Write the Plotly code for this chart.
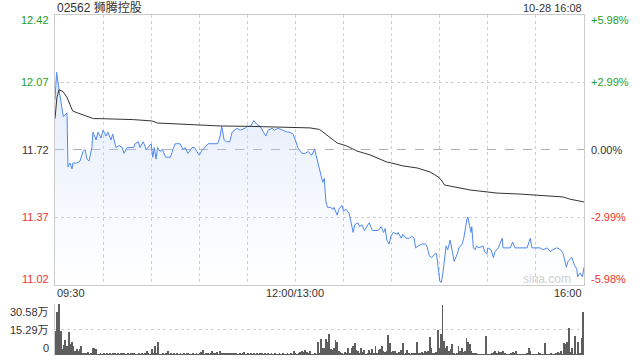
import plotly.graph_objects as go

W, H = 640, 360

# ---------------- data ----------------
title_text = "02562 狮腾控股"
stamp_text = "10-28 16:08"

price_ticks = [12.42, 12.07, 11.72, 11.37, 11.02]
price_tick_labels = ["12.42", "12.07", "11.72", "11.37", "11.02"]
pct_tick_labels = ["+5.98%", "+2.99%", "0.00%", "-2.99%", "-5.98%"]
tick_colors = ["#1f9e1f", "#1f9e1f", "#333333", "#f03030", "#f03030"]

time_grid = [30, 60, 90, 120, 150, 180, 210, 240, 270, 300]
time_labels = ["09:30", "12:00/13:00", "16:00"]
time_label_pos = [0, 150, 330]

# trading minutes since 09:30 (12:00/13:00 = 150, 16:00 = 330)
price_t = [0, 1, 2.5, 4.4, 5.2, 7.5, 8.1, 9.4, 10.6, 11.2, 13.7, 15.6, 17.5, 18.7, 20, 21.2, 23, 23.7,
           25.6, 26.8, 28.7, 30, 31.8, 33, 35, 36, 38, 40, 42, 43, 45, 47, 49, 50, 52, 53, 55, 57, 58,
           60, 61, 62, 63, 64, 65.5, 67, 69, 72, 74, 75, 78, 80, 81, 83, 85.5, 87, 88.5, 90, 92, 93.5,
           95.5, 98.5, 101.5, 103, 104, 105.5, 107, 109, 110.5, 113.5, 115.5, 118.5, 120, 122, 124,
           126, 128, 130, 131.5, 133, 135.5, 137, 139, 142, 145, 146.5, 148.5, 150.3, 151.5, 154, 156,
           158, 160, 162, 163.5, 165, 166.5, 167, 168, 169, 170, 172, 173.5, 174, 176, 177, 179, 180,
           181.5, 183.5, 184.5, 186, 187, 189, 190, 191.5, 193, 194.5, 196, 198, 200, 201.5, 203.5,
           205, 206, 207, 208.5, 209.5, 211, 213.5, 214, 216, 217, 219, 221, 222.5, 224, 225, 226.5,
           229, 231, 232, 233.5, 235, 237, 238, 239, 240, 241, 242, 244, 245, 246.5, 247.5, 249, 251,
           252, 254, 255, 257, 257.5, 259.5, 260, 261, 262, 263, 264.5, 267, 268, 269.5, 270, 272,
           273.5, 274.5, 276.5, 279, 279.5, 282, 284, 285.5, 287, 289, 292, 294.5, 296.5, 297.5,
           299.5, 302.5, 304.5, 307, 309, 310.5, 313, 315.5, 317, 319, 320, 322.5, 324, 325.5, 326,
           327.5, 329, 330]
price_v = [11.98, 12.12, 12.03, 11.92, 11.89, 11.91, 11.63, 11.65, 11.62, 11.65, 11.65, 11.66, 11.71,
           11.72, 11.67, 11.66, 11.73, 11.81, 11.77, 11.81, 11.78, 11.82, 11.79, 11.81, 11.77, 11.80,
           11.73, 11.74, 11.73, 11.70, 11.73, 11.73, 11.73, 11.75, 11.76, 11.73, 11.76, 11.72, 11.73,
           11.75, 11.68, 11.73, 11.67, 11.73, 11.71, 11.72, 11.68, 11.68, 11.73, 11.75, 11.75, 11.72,
           11.73, 11.70, 11.73, 11.73, 11.71, 11.69, 11.72, 11.73, 11.75, 11.75, 11.75, 11.79, 11.84,
           11.77, 11.76, 11.76, 11.81, 11.83, 11.82, 11.83, 11.84, 11.84, 11.87, 11.85, 11.84, 11.81,
           11.79, 11.82, 11.83, 11.82, 11.83, 11.82, 11.81, 11.81, 11.80, 11.76, 11.73, 11.70, 11.70,
           11.71, 11.69, 11.72, 11.67, 11.61, 11.57, 11.55, 11.57, 11.45, 11.42, 11.42, 11.41, 11.42,
           11.38, 11.41, 11.43, 11.40, 11.41, 11.39, 11.35, 11.29, 11.33, 11.34, 11.32, 11.33, 11.30,
           11.32, 11.34, 11.30, 11.30, 11.30, 11.32, 11.29, 11.31, 11.25, 11.23, 11.27, 11.29, 11.28,
           11.29, 11.26, 11.28, 11.26, 11.26, 11.27, 11.26, 11.21, 11.22, 11.23, 11.23, 11.22, 11.17,
           11.16, 11.18, 11.18, 11.11, 11.04, 11.03, 11.08, 11.22, 11.20, 11.25, 11.21, 11.14, 11.18,
           11.21, 11.23, 11.26, 11.36, 11.37, 11.29, 11.32, 11.21, 11.20, 11.22, 11.21, 11.22, 11.19,
           11.18, 11.21, 11.20, 11.16, 11.19, 11.21, 11.26, 11.21, 11.21, 11.21, 11.24, 11.21, 11.21,
           11.21, 11.21, 11.26, 11.21, 11.21, 11.21, 11.20, 11.21, 11.19, 11.20, 11.21, 11.20, 11.18,
           11.11, 11.14, 11.16, 11.12, 11.10, 11.06, 11.08, 11.06, 11.11]

avg_t = [0, 1.2, 2.5, 5, 7.5, 9.4, 11, 14, 17, 20, 24, 28, 39, 49, 60.5, 64, 70, 90.5, 103, 121.6,
         148.5, 159, 165, 169.7, 176, 182, 188.4, 196.5, 207, 210, 217, 226, 234, 239, 241, 243,
         252.6, 259, 269.5, 275.7, 290, 300.7, 310.7, 317, 321, 330]
avg_v = [11.88, 11.99, 12.03, 12.02, 11.99, 11.95, 11.92, 11.91, 11.90, 11.89, 11.88, 11.88, 11.878,
         11.875, 11.868, 11.857, 11.855, 11.847, 11.842, 11.840, 11.837, 11.832, 11.824, 11.795,
         11.754, 11.738, 11.712, 11.692, 11.655, 11.650, 11.635, 11.624, 11.603, 11.578, 11.562,
         11.536, 11.520, 11.510, 11.500, 11.494, 11.489, 11.484, 11.479, 11.474, 11.463, 11.448]

# volume per minute (unit: 万股), minute 0 .. 330
volume = [
    14.6, 25.6, 30.5, 14.6, 3.7, 6.2, 8.8, 5.1, 13.7, 6.8,
    7.6, 5.1, 2.5, 3.7, 2.7, 3.7, 5.1, 1.2, 0.8, 1.0,
    2.0, 0.6, 1.0, 4.5, 4.5, 3.9, 0.5, 0.2, 1.4, 0.5,
    0.8, 0.5, 1.0, 0.6, 0.9, 0.5, 0.7, 1.0, 0.6, 0.8,
    0.5, 0.9, 0.7, 1.4, 0.6, 0.8, 0.5, 0.7, 1.0, 1.0,
    0.6, 0.4, 0.8, 0.5, 0.9, 0.6, 0.8, 2.7, 1.4, 0.6,
    3.7, 1.0, 5.1, 0.8, 7.6, 0.5, 0.6, 0.8, 0.5, 0.7,
    2.7, 0.6, 0.8, 0.5, 0.7, 0.6, 0.9, 0.5, 0.7, 0.6,
    0.8, 0.5, 0.7, 0.9, 0.6, 0.5, 0.8, 0.6, 0.7, 0.5,
    0.8, 2.0, 3.3, 0.6, 1.0, 0.7, 0.5, 0.8, 2.7, 1.4,
    1.0, 1.6, 0.6, 2.7, 1.2, 1.0, 1.4, 0.8, 1.2, 0.9,
    1.5, 1.0, 1.3, 0.7, 0.6, 0.9, 0.6, 0.8, 1.6, 0.6,
    0.8, 0.5, 0.7, 0.6, 1.4, 0.6, 0.8, 0.5, 0.7, 1.2,
    0.6, 0.8, 0.5, 0.7, 0.6, 0.8, 0.5, 0.7, 0.6, 0.5,
    0.8, 0.6, 0.7, 0.5, 0.6, 0.8, 0.5, 0.7, 0.6, 2.7,
    1.4, 0.6, 0.8, 1.6, 2.3, 2.0, 3.3, 1.6, 0.8, 2.7,
    0.6, 0.6, 0.8, 0.5, 7.7, 0.8, 9.4, 4.5, 4.5, 9.4,
    7.6, 12.5, 3.7, 3.1, 4.5, 8.8, 7.6, 2.3, 1.6, 1.0,
    0.6, 2.0, 0.8, 4.5, 1.0, 4.5, 5.1, 7.0, 3.1, 2.3,
    0.8, 4.5, 1.6, 3.3, 0.6, 1.0, 3.3, 0.8, 3.9, 1.2,
    5.1, 0.8, 3.1, 3.9, 5.1, 2.3, 1.6, 2.7, 11.9, 7.0,
    2.0, 2.3, 2.7, 0.8, 1.0, 1.6, 3.1, 7.0, 0.6, 0.8,
    3.1, 1.0, 0.6, 0.8, 1.2, 1.0, 7.6, 0.8, 1.0, 1.6,
    1.0, 2.7, 1.6, 2.7, 10.7, 4.5, 0.8, 1.0, 1.6, 15.2,
    4.5, 12.5, 29.8, 8.2, 4.5, 5.1, 2.7, 3.9, 6.4, 1.0,
    0.6, 0.8, 5.1, 2.7, 4.5, 1.6, 2.7, 10.0, 7.6, 6.4,
    2.7, 1.2, 0.8, 1.0, 0.6, 0.4, 0.6, 0.3, 0.4, 11.3,
    0.6, 0.3, 0.6, 0.8, 1.6, 2.3, 0.8, 2.7, 1.6, 2.0,
    2.3, 0.8, 0.6, 0.4, 0.6, 0.8, 1.6, 1.0, 2.7, 0.4,
    0.6, 0.6, 0.3, 0.6, 0.6, 0.8, 4.5, 2.7, 0.6, 0.6,
    0.6, 0.4, 1.6, 1.0, 0.6, 0.4, 7.0, 0.6, 0.4, 0.6,
    1.0, 0.4, 0.6, 1.2, 1.6, 1.0, 2.7, 0.6, 7.0, 6.4,
    7.6, 16.2, 1.6, 4.5, 0.6, 11.3, 0.6, 7.6, 0.8, 10.0, 25.6,
]
volume_minutes = list(range(len(volume)))
vol_ticks = [30.58, 15.29, 0]
vol_tick_labels = ["30.58万", "15.29万", "0"]

# ---------------- layout geometry ----------------
def px_x(p):
    return p / W

def px_y(p):
    return 1 - p / H

X_DOM = [px_x(55), px_x(584)]
Y_MAIN = [px_y(284.5), px_y(14.5)]
Y_VOL = [px_y(355), px_y(304)]

FONT = "Arial, 'Liberation Sans', 'Noto Sans CJK SC', sans-serif"
GRID = "#d0d0d0"

fig = go.Figure()

fig.add_trace(go.Scatter(
    x=price_t, y=price_v, mode="lines",
    line=dict(color="#4f88ee", width=1),
    fill="tozeroy",
    fillgradient=dict(type="vertical", start=11.02, stop=12.12,
                      colorscale=[[0, "rgba(200,216,246,0.0)"], [1, "rgba(190,210,245,0.45)"]]),
    xaxis="x", yaxis="y", hoverinfo="skip", showlegend=False,
))
fig.add_trace(go.Scatter(
    x=avg_t, y=avg_v, mode="lines",
    line=dict(color="#333333", width=1),
    xaxis="x", yaxis="y", hoverinfo="skip", showlegend=False,
))
fig.add_trace(go.Bar(
    x=volume_minutes, y=volume, width=0.55,
    marker=dict(color="#5e5e5e", line=dict(width=0)),
    xaxis="x2", yaxis="y2", hoverinfo="skip", showlegend=False,
))

annotations = []
# left / right price axis labels
for i, (v, lab, pct, col) in enumerate(zip(price_ticks, price_tick_labels, pct_tick_labels, tick_colors)):
    shift = -6 if i == 0 else (6 if i == len(price_ticks) - 1 else 0)
    annotations.append(dict(x=px_x(51), xref="paper", y=v, yref="y", text=lab, showarrow=False,
                            xanchor="right", yanchor="middle", yshift=shift,
                            font=dict(family=FONT, size=11, color=col)))
    annotations.append(dict(x=px_x(589), xref="paper", y=v, yref="y", text=pct, showarrow=False,
                            xanchor="left", yanchor="middle", yshift=shift,
                            font=dict(family=FONT, size=11, color=col)))
# time labels
for pos, lab in zip(time_label_pos, time_labels):
    anchor = "left" if pos == time_label_pos[0] else ("right" if pos == time_label_pos[-1] else "center")
    annotations.append(dict(x=pos, xref="x", y=px_y(293), yref="paper", text=lab, showarrow=False,
                            xanchor=anchor, yanchor="middle",
                            font=dict(family=FONT, size=11, color="#333333")))
# volume labels
for i, (v, lab) in enumerate(zip(vol_ticks, vol_tick_labels)):
    shift = -8 if i == 0 else (7 if i == len(vol_ticks) - 1 else 0)
    annotations.append(dict(x=px_x(51), xref="paper", y=v, yref="y2", text=lab, showarrow=False,
                            xanchor="right", yanchor="middle", yshift=shift,
                            font=dict(family=FONT, size=11, color="#333333")))
# title & timestamp & watermark
annotations.append(dict(x=px_x(55), xref="paper", y=px_y(7.5), yref="paper", text=title_text,
                        showarrow=False, xanchor="left", yanchor="middle",
                        font=dict(family=FONT, size=12, color="#333333")))
annotations.append(dict(x=px_x(584), xref="paper", y=px_y(7.5), yref="paper", text=stamp_text,
                        showarrow=False, xanchor="right", yanchor="middle",
                        font=dict(family=FONT, size=11, color="#333333")))
annotations.append(dict(x=px_x(573), xref="paper", y=px_y(278.5), yref="paper", text="sina.com",
                        showarrow=False, xanchor="right", yanchor="middle",
                        font=dict(family=FONT, size=12, color="#cfcfcf")))

shapes = [
    # dashed previous-close line
    dict(type="line", xref="x", yref="y", x0=0, x1=330, y0=price_ticks[2], y1=price_ticks[2],
         line=dict(color="#b0b0b0", width=1, dash="dash"), layer="below"),
]

fig.update_layout(
    width=W, height=H, margin=dict(l=0, r=0, t=0, b=0),
    paper_bgcolor="white", plot_bgcolor="rgba(0,0,0,0)",
    showlegend=False, bargap=0,
    xaxis=dict(domain=X_DOM, range=[0, 330], tickvals=time_grid, showticklabels=False,
               showgrid=True, gridcolor=GRID, griddash="dot", gridwidth=1,
               showline=True, linecolor="#cccccc", linewidth=1, mirror=True,
               zeroline=False, ticks="", fixedrange=True),
    yaxis=dict(domain=Y_MAIN, range=[price_ticks[-1], price_ticks[0]],
               tickvals=[price_ticks[1], price_ticks[3]], showticklabels=False,
               showgrid=True, gridcolor=GRID, griddash="dot", gridwidth=1,
               showline=True, linecolor="#cccccc", linewidth=1, mirror=True,
               zeroline=False, ticks=""),
    xaxis2=dict(domain=X_DOM, range=[-0.5, 330.5], showticklabels=False, showgrid=False,
                showline=False, zeroline=False, anchor="y2"),
    yaxis2=dict(domain=Y_VOL, range=[0, vol_ticks[0]], tickvals=vol_ticks[:2],
                showticklabels=False, showgrid=True, gridcolor=GRID, griddash="dot", gridwidth=1,
                showline=True, linecolor="#cccccc", linewidth=1, zeroline=False, ticks="",
                anchor="x2"),
    annotations=annotations,
    shapes=shapes,
)

fig.write_html("out.html")
